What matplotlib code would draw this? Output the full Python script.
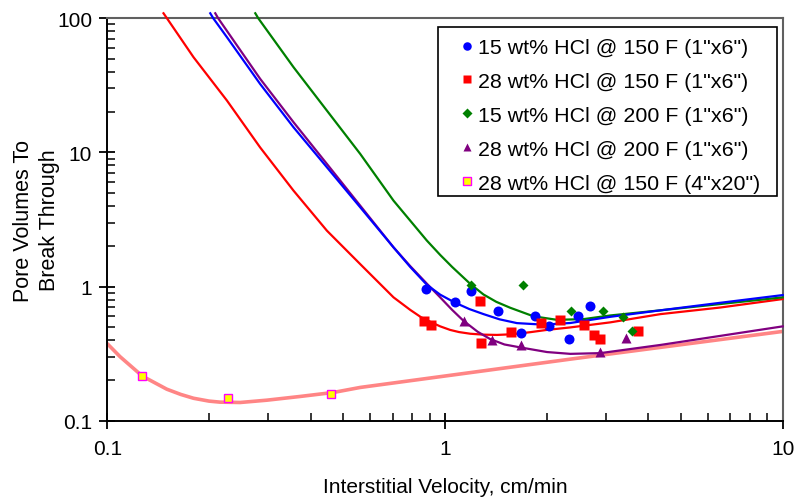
import matplotlib
matplotlib.use('Agg')
import matplotlib.pyplot as plt
from matplotlib.patches import Rectangle
from matplotlib.ticker import FixedLocator, FixedFormatter, LogLocator, NullFormatter

plt.rcParams['font.family'] = ['Liberation Sans', 'DejaVu Sans']

# ---------------- data ----------------
labels = ['15 wt% HCl @ 150 F (1"x6")',
          '28 wt% HCl @ 150 F (1"x6")',
          '15 wt% HCl @ 200 F (1"x6")',
          '28 wt% HCl @ 200 F (1"x6")',
          '28 wt% HCl @ 150 F (4"x20")']

blue_x = [0.880, 1.067, 1.196, 1.431, 1.676, 1.851, 2.036, 2.333, 2.476, 2.680]
blue_y = [0.958, 0.762, 0.930, 0.660, 0.454, 0.605, 0.510, 0.406, 0.605, 0.712]

red_x = [0.864, 0.908, 1.272, 1.280, 1.571, 1.924, 2.194, 2.585, 2.754, 2.870, 3.720]
red_y = [0.556, 0.516, 0.775, 0.379, 0.455, 0.534, 0.565, 0.516, 0.435, 0.406, 0.463]

green_x = [1.196, 1.701, 2.354, 2.943, 3.367, 3.580]
green_y = [1.026, 1.026, 0.653, 0.653, 0.592, 0.468]

purple_x = [1.140, 1.380, 1.678, 2.870, 3.427]
purple_y = [0.557, 0.401, 0.368, 0.323, 0.413]

pink_x = [0.127, 0.227, 0.459]
pink_y = [0.215, 0.147, 0.158]

# fitted curves
blue_cx = [0.2018, 0.206, 0.226, 0.2835, 0.356, 0.447, 0.561, 0.704, 0.789, 0.884,
           0.968, 1.067, 1.18, 1.301, 1.45, 1.633, 1.959, 2.35, 3.087, 4.342, 6.538, 10]
blue_cy = [109, 100, 72.4, 32.4, 15.4, 7.75, 3.90, 1.96, 1.40, 1.03,
           0.87, 0.762, 0.68, 0.623, 0.57, 0.534, 0.520, 0.535, 0.595, 0.665, 0.757, 0.864]

red_cx = [0.1467, 0.150, 0.180, 0.226, 0.2835, 0.356, 0.447, 0.561, 0.704, 0.789,
          0.850, 0.92, 0.968, 1.036, 1.10, 1.188, 1.301, 1.425, 1.55, 1.633, 1.788,
          2.0, 2.35, 3.087, 4.342, 6.538, 10]
red_cy = [109, 100.5, 51.3, 24.4, 10.9, 5.19, 2.61, 1.47, 0.831, 0.67,
          0.59, 0.535, 0.505, 0.475, 0.458, 0.445, 0.438, 0.436, 0.44, 0.445, 0.457,
          0.475, 0.496, 0.541, 0.623, 0.698, 0.807]

green_cx = [0.2743, 0.280, 0.356, 0.447, 0.561, 0.704, 0.884, 0.968, 1.05, 1.193,
            1.30, 1.418, 1.560, 1.829, 2.146, 2.573, 3.087, 4.342, 6.538, 10]
green_cy = [109, 100, 43.2, 20.5, 9.75, 4.37, 2.20, 1.72, 1.40, 1.037,
            0.873, 0.77, 0.695, 0.60, 0.565, 0.572, 0.609, 0.665, 0.741, 0.831]

purple_cx = [0.2088, 0.213, 0.2835, 0.356, 0.447, 0.561, 0.704, 0.789, 0.884, 0.968,
             1.05, 1.134, 1.25, 1.361, 1.5, 1.670, 2.004, 2.35, 2.884, 4.342, 6.538, 10]
purple_cy = [109, 100, 35.4, 16.8, 8.21, 4.01, 1.96, 1.42, 1.05, 0.83,
             0.67, 0.556, 0.46, 0.406, 0.37, 0.352, 0.325, 0.315, 0.319, 0.367, 0.429, 0.505]

pink_cx = [0.1, 0.1091, 0.127, 0.150, 0.165, 0.180, 0.200, 0.2158, 0.2473, 0.2967,
           0.3724, 0.4674, 0.561, 2.35, 10]
pink_cy = [0.375, 0.300, 0.215, 0.1718, 0.157, 0.147, 0.140, 0.1375, 0.1367, 0.1422,
           0.1516, 0.1624, 0.177, 0.2877, 0.463]

x_ticks = [0.1, 1, 10]
x_tick_labels = ['0.1', '1', '10']
y_ticks = [0.1, 1, 10, 100]
y_tick_labels = ['0.1', '1', '10', '100']

# ---------------- figure ----------------
W, H = 798, 502
fig = plt.figure(figsize=(W / 100, H / 100), dpi=100)
ax = fig.add_axes([107.3 / W, 1 - 421.7 / H, 675.4 / W, 402.4 / H])
ax.set_xscale('log')
ax.set_yscale('log')
ax.set_xlim(0.1, 10)
ax.set_ylim(0.1, 100)

lw = 1.6
ax.plot(pink_cx, pink_cy, color='#ff8585', lw=2.6, solid_capstyle='round', zorder=2)
ax.plot(red_cx, red_cy, color='#ff0000', lw=lw, clip_on=False, zorder=3)
ax.plot(green_cx, green_cy, color='#008000', lw=lw, clip_on=False, zorder=3)
ax.plot(purple_cx, purple_cy, color='#800080', lw=lw, clip_on=False, zorder=3)
ax.plot(blue_cx, blue_cy, color='#0000ff', lw=lw, clip_on=False, zorder=3)

ax.plot(blue_x, blue_y, 'o', color='#0000ff', ms=7.2, mec='none', ls='none',
        label=labels[0], zorder=5)
ax.plot(red_x, red_y, 's', color='#ff0000', ms=7, mec='none', ls='none',
        label=labels[1], zorder=5)
ax.plot(green_x, green_y, 'D', color='#008000', ms=5.4, mec='none', ls='none',
        label=labels[2], zorder=5)
ax.plot(purple_x, purple_y, '^', color='#800080', ms=7.5, mec='none', ls='none',
        label=labels[3], zorder=5)
ax.plot(pink_x, pink_y, 's', color='#ffff00', ms=6.3, mec='#ff00ff', mew=1.0, ls='none',
        label=labels[4], zorder=5)

# axes styling
for s in ['left', 'bottom']:
    ax.spines[s].set_color('black')
    ax.spines[s].set_linewidth(1.4)
for s in ['top', 'right']:
    ax.spines[s].set_color('#606060')
    ax.spines[s].set_linewidth(1.5)

ax.xaxis.set_major_locator(FixedLocator(x_ticks))
ax.xaxis.set_major_formatter(FixedFormatter(x_tick_labels))
ax.yaxis.set_major_locator(FixedLocator(y_ticks))
ax.yaxis.set_major_formatter(FixedFormatter(y_tick_labels))
ax.xaxis.set_minor_locator(LogLocator(base=10, subs=range(2, 10)))
ax.yaxis.set_minor_locator(LogLocator(base=10, subs=range(2, 10)))
ax.xaxis.set_minor_formatter(NullFormatter())
ax.yaxis.set_minor_formatter(NullFormatter())

ax.tick_params(which='major', direction='inout', length=12, width=1.3, labelsize=15,
               color='black', pad=5)
ax.tick_params(axis='x', which='major', pad=7)
ax.tick_params(which='minor', direction='in', length=6, width=1.1, color='black')
ax.tick_params(top=False, right=False, which='both')

ax.set_xlabel('Interstitial Velocity, cm/min', fontsize=15, labelpad=14)
ax.set_ylabel('Pore Volumes To\nBreak Through', fontsize=15.5, linespacing=1.35)
ax.yaxis.set_label_coords(-0.0696, 0.5)

# legend: entries without frame, frame drawn as a rectangle behind them
frame = Rectangle((438.3 / W, 1 - 197.0 / H), (776.7 - 438.3) / W, (197.0 - 28.3) / H,
                  transform=fig.transFigure, facecolor='white', edgecolor='black',
                  lw=1.2, zorder=8, clip_on=False)
ax.add_patch(frame)
leg = ax.legend(loc='upper left', bbox_to_anchor=(462.3 / W, 1 - 39.0 / H),
                bbox_transform=fig.transFigure, fontsize=15.4, frameon=False,
                numpoints=1, handlelength=0.4, handletextpad=0.35, borderpad=0,
                labelspacing=0.70, markerscale=0.85, borderaxespad=0)
leg.set_zorder(10)

fig.savefig('out.png', dpi=100)
